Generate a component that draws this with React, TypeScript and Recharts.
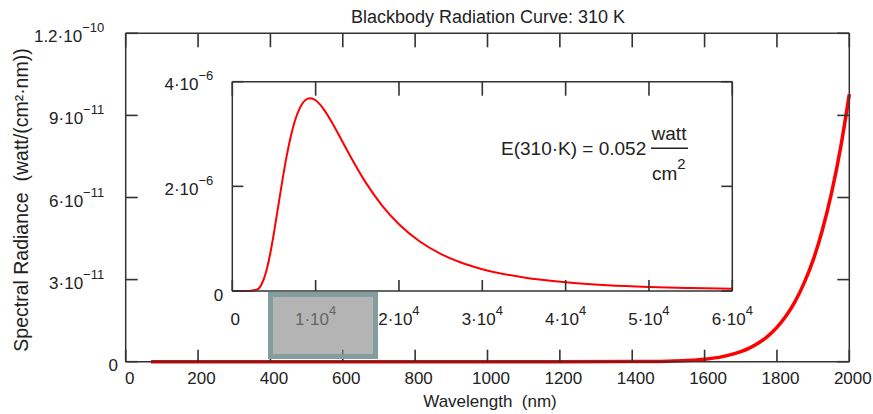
import React from 'react';
import { LineChart, Line, XAxis, YAxis } from 'recharts';

// main chart: spectral radiance (watt/(cm²·nm)) against wavelength (nm), 0..2000 nm
const mainWavelengths = [70, 200, 400, 600, 800, 1000, 1200, 1400, 1500, 1550, 1600, 1650, 1700, 1725, 1750, 1775, 1800, 1825, 1850, 1875, 1900, 1925, 1950, 1975, 2000];
const mainRadiance = [0, 0, 0, 0, 0, 0, 0, 2.8e-14, 1.8e-13, 4.1e-13, 9.0e-13, 1.86e-12, 3.67e-12, 5.06e-12, 6.92e-12, 9.37e-12, 1.256e-11, 1.668e-11, 2.196e-11, 2.871e-11, 3.711e-11, 4.787e-11, 6.113e-11, 7.748e-11, 9.77e-11];
const mainXTicks = [0, 200, 400, 600, 800, 1000, 1200, 1400, 1600, 1800, 2000];
const mainXTickLabels = [['0', ''], ['200', ''], ['400', ''], ['600', ''], ['800', ''], ['1000', ''], ['1200', ''], ['1400', ''], ['1600', ''], ['1800', ''], ['2000', '']];
const mainYTicks = [0, 3e-11, 6e-11, 9e-11, 1.2e-10];
const mainYTickLabels = [['0', ''], ['3·10', '−11'], ['6·10', '−11'], ['9·10', '−11'], ['1.2·10', '−10']];

// inset: the whole curve, 0..60000 nm
const insetWavelengths = [0, 2000, 3000, 3500, 4000, 4500, 5000, 5500, 6000, 6500, 7000, 7500, 8000, 9000, 9350, 10000, 11000, 12000, 13000, 14000, 16000, 18000, 20000, 22500, 25000, 27500, 30000, 35000, 40000, 45000, 50000, 55000, 60000];
const insetRadiance = [0, 0, 2.9e-8, 1.24e-7, 3.34e-7, 6.73e-7, 1.114e-6, 1.609e-6, 2.103e-6, 2.558e-6, 2.942e-6, 3.245e-6, 3.463e-6, 3.671e-6, 3.684e-6, 3.645e-6, 3.468e-6, 3.211e-6, 2.919e-6, 2.623e-6, 2.076e-6, 1.626e-6, 1.274e-6, 9.45e-7, 7.09e-7, 5.39e-7, 4.16e-7, 2.58e-7, 1.67e-7, 1.12e-7, 7.8e-8, 5.6e-8, 4.1e-8];
const insetXTicks = [0, 10000, 20000, 30000, 40000, 50000, 60000];
const insetXTickLabels = [['0', ''], ['1·10', '4'], ['2·10', '4'], ['3·10', '4'], ['4·10', '4'], ['5·10', '4'], ['6·10', '4']];
const insetYTicks = [0, 2e-6, 4e-6];
const insetYTickLabels = [['0', ''], ['2·10', '−6'], ['4·10', '−6']];

const FONT = '"Liberation Sans", Arial, sans-serif';
const AXIS = '#333';
const RED = '#ff0000';

const MAIN_X_MAX = 2000, MAIN_Y_MAX = 1.2e-10;
const INSET_X_MAX = 60000, INSET_Y_MAX = 4e-6;
// plot boxes (left, top, right, bottom) in page pixels
const MAIN_BOX = { l: 125.7, t: 33.3, r: 849.3, b: 361.7 };
const INSET_BOX = { l: 232.3, t: 81.7, r: 732.3, b: 291 };

const mainData = mainWavelengths.map((x, i) => ({ x, y: mainRadiance[i] }));
const insetData = insetWavelengths.map((x, i) => ({ x, y: insetRadiance[i] }));

function findIdx(ticks: number[], v: number) {
  return ticks.findIndex((t) => Math.abs(t - v) <= Math.abs(t) * 1e-6);
}

function Label({ x, y, anchor, base, sup }: any) {
  return (
    <text x={x} y={y} textAnchor={anchor} fontFamily={FONT} fontSize={17} fill="#222" stroke="none">
      {base}
      {sup ? <tspan dy={-10} fontSize={13}>{sup}</tspan> : null}
    </text>
  );
}

// labels drawn by hand so the 10^n parts can be raised; x/y arrive on the axis line
function makeLabel(opts: any) {
  return (p: any) => {
    const x = Number(p.x);
    const y = Number(p.y);
    const v = p.payload.value;
    const i = findIdx(opts.ticks, v);
    const [base, sup] = opts.labels[i] || ['', ''];
    const zero = v === 0;
    if (opts.side === 'bottom') {
      return <Label x={x + (zero ? opts.zeroDx : opts.dx)} y={y + opts.dy} anchor="middle" base={base} sup={sup} />;
    }
    return <Label x={x - (zero ? opts.zeroGap : opts.gap)} y={y + (zero ? opts.zeroDy : opts.dy)} anchor="end" base={base} sup={sup} />;
  };
}

const axisLine = { stroke: AXIS, strokeWidth: 1.5 };

// inward tick marks on all four sides of a plot box, as thin filled bars
function TickMarks({ box, xTicks, yTicks, xMax, yMax, len, lenTop }: any) {
  const w = box.r - box.l;
  const h = box.b - box.t;
  const bars: any[] = [];
  xTicks.forEach((t: number, i: number) => {
    const x = box.l + (t / xMax) * w;
    bars.push(<rect key={'b' + i} x={x - 0.8} y={box.b - len} width={1.6} height={len} fill={AXIS} />);
    bars.push(<rect key={'t' + i} x={x - 0.8} y={box.t} width={1.6} height={lenTop} fill={AXIS} />);
  });
  yTicks.forEach((t: number, i: number) => {
    const y = box.b - (t / yMax) * h;
    bars.push(<rect key={'l' + i} x={box.l} y={y - 0.8} width={len} height={1.6} fill={AXIS} />);
    bars.push(<rect key={'r' + i} x={box.r - len} y={y - 0.8} width={len} height={1.6} fill={AXIS} />);
  });
  return <g>{bars}</g>;
}

export default function App() {
  return (
    <div style={{ position: 'absolute', left: 0, top: 0, width: 873, height: 414, background: '#fff', fontFamily: FONT }}>
      <div style={{ position: 'absolute', left: 0, top: 0 }}>
        <LineChart width={873} height={414} data={mainData} margin={{ top: 32.3, right: 22.7, bottom: 51.3, left: 124.7 }}>
          <XAxis dataKey="x" type="number" domain={[0, MAIN_X_MAX]} ticks={mainXTicks} interval={0} height={1} tickSize={0} tickMargin={0} tickLine={false} axisLine={axisLine}
            tick={makeLabel({ side: 'bottom', labels: mainXTickLabels, ticks: mainXTicks, dx: 3.5, zeroDx: 4, dy: 22 })} />
          <XAxis xAxisId="top" orientation="top" dataKey="x" type="number" domain={[0, MAIN_X_MAX]} ticks={mainXTicks} interval={0} height={1} tick={false} tickLine={false} axisLine={axisLine} />
          <YAxis type="number" domain={[0, MAIN_Y_MAX]} ticks={mainYTicks} interval={0} width={1} tickSize={0} tickMargin={0} tickLine={false} axisLine={axisLine}
            tick={makeLabel({ side: 'left', labels: mainYTickLabels, ticks: mainYTicks, gap: 21.5, zeroGap: 7.7, dy: 9, zeroDy: 9 })} />
          <YAxis yAxisId="right" orientation="right" type="number" domain={[0, MAIN_Y_MAX]} ticks={mainYTicks} interval={0} width={1} tick={false} tickLine={false} axisLine={axisLine} />
          <Line dataKey="y" type="monotone" stroke={RED} strokeWidth={3.5} dot={false} isAnimationActive={false} />
        </LineChart>
      </div>
      <div style={{ position: 'absolute', left: 0, top: 0 }}>
        <LineChart width={873} height={414} data={insetData} margin={{ top: 80.7, right: 139.7, bottom: 122, left: 231.3 }}>
          <XAxis dataKey="x" type="number" domain={[0, INSET_X_MAX]} ticks={insetXTicks} interval={0} height={1} tickSize={0} tickMargin={0} tickLine={false} axisLine={axisLine}
            tick={makeLabel({ side: 'bottom', labels: insetXTickLabels, ticks: insetXTicks, dx: 0, zeroDx: 3, dy: 34 })} />
          <XAxis xAxisId="top" orientation="top" dataKey="x" type="number" domain={[0, INSET_X_MAX]} ticks={insetXTicks} interval={0} height={1} tick={false} tickLine={false} axisLine={axisLine} />
          <YAxis type="number" domain={[0, INSET_Y_MAX]} ticks={insetYTicks} interval={0} width={1} tickSize={0} tickMargin={0} tickLine={false} axisLine={axisLine}
            tick={makeLabel({ side: 'left', labels: insetYTickLabels, ticks: insetYTicks, gap: 19, zeroGap: 9, dy: 8.5, zeroDy: 10 })} />
          <YAxis yAxisId="right" orientation="right" type="number" domain={[0, INSET_Y_MAX]} ticks={insetYTicks} interval={0} width={1} tick={false} tickLine={false} axisLine={axisLine} />
          <Line dataKey="y" type="monotone" stroke={RED} strokeWidth={2} dot={false} isAnimationActive={false} />
        </LineChart>
      </div>
      <svg width={873} height={414} style={{ position: 'absolute', left: 0, top: 0 }}>
        <text x={488} y={23} textAnchor="middle" fontFamily={FONT} fontSize={18} fill="#222">Blackbody Radiation Curve: 310 K</text>
        <text x={490} y={407} textAnchor="middle" fontFamily={FONT} fontSize={17} fill="#222" style={{ whiteSpace: 'pre' }}>Wavelength  (nm)</text>
        <text transform="translate(28,200) rotate(-90)" textAnchor="middle" fontFamily={FONT} fontSize={19.5} fill="#222" style={{ whiteSpace: 'pre' }}>Spectral Radiance  (watt/(cm²·nm))</text>
        <text x={501} y={155} fontFamily={FONT} fontSize={19} fill="#222">E(310·K) = 0.052</text>
        <text x={669} y={140} textAnchor="middle" fontFamily={FONT} fontSize={19} fill="#222">watt</text>
        <line x1={651} y1={148.3} x2={688} y2={148.3} stroke="#222" strokeWidth={1.5} />
        <text x={652} y={180} fontFamily={FONT} fontSize={19} fill="#222">cm<tspan dy={-11} fontSize={15}>2</tspan></text>
        <TickMarks box={MAIN_BOX} xTicks={mainXTicks} yTicks={mainYTicks} xMax={MAIN_X_MAX} yMax={MAIN_Y_MAX} len={12} lenTop={14} />
        <TickMarks box={INSET_BOX} xTicks={insetXTicks} yTicks={insetYTicks} xMax={INSET_X_MAX} yMax={INSET_Y_MAX} len={11} lenTop={14} />
      </svg>
      <div style={{ position: 'absolute', left: 268.3, top: 291.7, width: 110, height: 67.6, boxSizing: 'border-box', border: '5px solid #849d9d', background: 'rgba(137,137,137,0.64)' }} />
    </div>
  );
}
